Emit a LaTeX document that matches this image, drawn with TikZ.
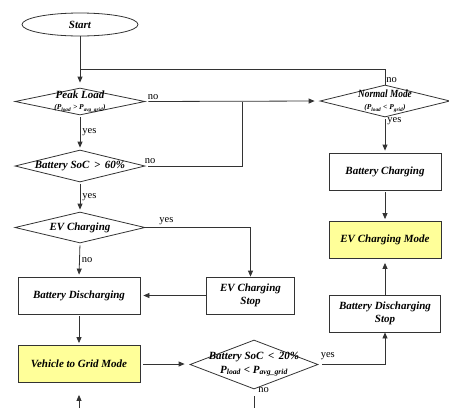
\documentclass[tikz,border=0pt]{standalone}
\usepackage{fontspec}
\setmainfont{Liberation Serif}
\usepackage{tikz}
\usetikzlibrary{arrows.meta,shapes.geometric}
\definecolor{modeYellow}{HTML}{FFFF99}
\definecolor{lineGrey}{HTML}{333333}
\newcommand{\pwr}[1]{P\textsubscript{#1}}

\begin{document}
\begin{tikzpicture}[
    x=1pt, y=-1pt,
    font=\fontsize{11}{12.5}\selectfont\bfseries\itshape,
    >={Triangle[length=6pt,width=5pt]},
    trm/.style={ellipse, draw=lineGrey, line width=0.8pt, inner sep=0pt,
                minimum width=116pt, minimum height=23pt},
    dcs/.style={diamond, draw=lineGrey, line width=0.8pt, inner sep=0pt},
    blk/.style={rectangle, draw=lineGrey, line width=0.8pt, inner sep=2pt,
                minimum height=37pt, align=center},
    mde/.style={blk, fill=modeYellow},
    arr/.style={->, line width=0.8pt, draw=lineGrey},
    lne/.style={line width=0.8pt, draw=lineGrey},
    lbl/.style={font=\fontsize{10.5}{11}\selectfont\upshape\mdseries, inner sep=2pt},
  ]
  \useasboundingbox (0,0) rectangle (449,408);
  % left column
  \node[trm] (start) at (80,24.5) {Start};
  \node[dcs, minimum width=130pt, minimum height=27pt,
        label={[align=center, inner sep=0pt]center:Peak Load\\[-1pt]{\fontsize{7.5}{8}\selectfont(\pwr{load} > \pwr{avg\_grid})}}]
        (peak) at (80,101.5) {};
  \node[dcs, minimum width=130pt, minimum height=32pt,
        label={center:Battery SoC \,>\, 60\%}] (soc60) at (80,166) {};
  \node[dcs, minimum width=130pt, minimum height=31pt,
        label={center:EV Charging}] (evc) at (80,227.5) {};
  \node[blk, minimum width=122pt] (bdis) at (79,295.5) {Battery Discharging};
  \node[mde, minimum width=122pt] (v2g)  at (79,364)   {Vehicle to Grid Mode};
  % middle
  \node[blk, minimum width=88pt]  (evstop) at (250.5,295.5) {EV Charging\\Stop};
  \node[dcs, minimum width=128pt, minimum height=49pt,
        label={[align=center, inner sep=0pt]center:Battery SoC \,<\, 20\%\\[1pt]\pwr{load} < \pwr{avg\_grid}}]
        (soc20) at (254,364.5) {};
  % right column
  \node[dcs, minimum width=130pt, minimum height=32pt,
        label={[align=center, inner sep=0pt]center:\scalebox{0.85}[1]{Normal Mode}\\[0pt]{\fontsize{7.5}{8}\selectfont(\pwr{load} < \pwr{grid})}}]
        (norm) at (385,101) {};
  \node[blk, minimum width=112pt] (bch)    at (385,171.5) {Battery Charging};
  \node[mde, minimum width=112pt] (evmode) at (385,240)   {EV Charging Mode};
  \node[blk, minimum width=111pt] (bdstop) at (385,313.5) {Battery Discharging\\Stop};
  % loose ends at the lower edge
  \coordinate (v2gin)  at (79,408);
  \coordinate (socout) at (254,408);
  % junctions
  \coordinate (jtop) at (80,69);
  \coordinate (jmid) at (242,101.5);
  % arrows
  \draw[arr, shorten >=5pt] (start) -- (peak);
  \draw[lne] (jtop) -| (norm.north) node[lbl, pos=1, above right, xshift=-1pt] {no};
  \draw[arr, shorten <=3pt, shorten >=5pt] (peak.east) -- (norm.west)
        node[lbl, pos=0, above right] {no};
  \draw[arr, shorten <=2pt, shorten >=2pt] (peak.south) -- (soc60.north)
        node[lbl, midway, right] {yes};
  \draw[lne, shorten <=3pt] (soc60.east) -| (jmid)
        node[lbl, pos=0, above right, xshift=-3pt] {no};
  \draw[arr, shorten <=2pt, shorten >=2pt] (soc60.south) -- (evc.north)
        node[lbl, midway, right] {yes};
  \draw[arr] (evc.east) -| (evstop.north)
        node[lbl, pos=0.1, above] {yes};
  \draw[arr, shorten <=2pt, shorten >=2pt] (evc.south) -- (bdis.north)
        node[lbl, midway, right] {no};
  \draw[arr, shorten >=3pt] (evstop.west) -- (bdis.east);
  \draw[arr, shorten <=2pt, shorten >=2pt] (bdis.south) -- (v2g.north);
  \draw[arr, shorten <=3pt, shorten >=5pt] (v2g.east) -- (v2g.east -| soc20.west);
  \draw[arr, shorten <=4pt] (soc20.east) -| (bdstop.south)
        node[lbl, pos=0, above right, yshift=2pt] {yes};
  \draw[arr, shorten >=4pt] (bdstop.north) -- (evmode.south);
  \draw[arr, shorten <=2pt, shorten >=2pt] (norm.south) -- (bch.north)
        node[lbl, pos=0.1, right] {yes};
  \draw[arr, shorten <=2pt, shorten >=2pt] (bch.south) -- (evmode.north);
  \draw[arr, shorten >=12pt] (v2gin) -- (v2g.south);
  \draw[lne, shorten <=7pt] (soc20.south) -- (socout)
        node[lbl, pos=0, above right, xshift=2pt, yshift=-6pt] {no};
\end{tikzpicture}
\end{document}
